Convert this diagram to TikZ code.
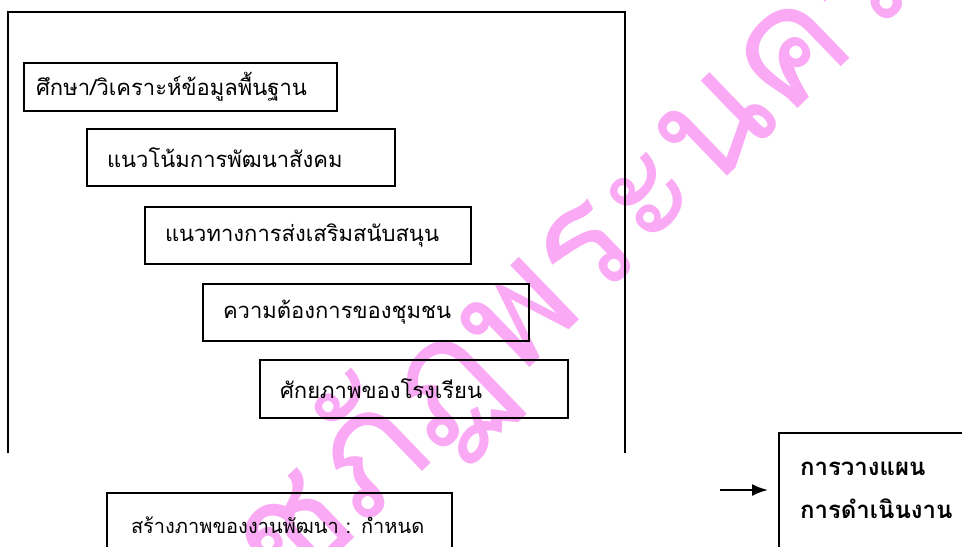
\documentclass[tikz,border=0pt]{standalone}
\usepackage{fontspec}
\newfontfamily\thai[Script=Thai]{Loma}
\usetikzlibrary{arrows.meta}
\definecolor{wmpink}{RGB}{250,170,245}
\tikzset{> = {Latex[length=8pt,width=6pt]}, every picture/.style={line width=1pt}}

\begin{document}
\begin{tikzpicture}[x=0.5pt,y=-0.5pt]
\useasboundingbox (0,0) rectangle (962,546);

% watermark
\node[rotate=44, text=wmpink, font=\thai\fontsize{78}{78}\selectfont] (mark) at (510,322) {ราชภัฏพระนคร};

% frame
\draw[line width=0.8pt] (8,453) -- (8,12) -- (625,12) -- (625,453);

\begin{scope}[every node/.style={draw,rectangle,anchor=north west,align=left,inner xsep=10pt,font=\thai\fontsize{11}{13}\selectfont}]
\node[text width=144.5pt, inner xsep=6pt, minimum height=24pt] (basic) at (23,62) {ศึกษา/วิเคราะห์ข้อมูลพื้นฐาน};
\node[text width=134pt, minimum height=28.5pt] (trend) at (86,128) {แนวโน้มการพัฒนาสังคม};
\node[text width=143pt, minimum height=28.5pt] (support) at (144,206) {แนวทางการส่งเสริมสนับสนุน};
\node[text width=143pt, minimum height=28.5pt] (need) at (202,283) {ความต้องการของชุมชน};
\node[text width=134pt, minimum height=29pt] (school) at (259,359) {ศักยภาพของโรงเรียน};
\node[text width=148.5pt, inner xsep=12pt, minimum height=32pt, font=\thai\fontsize{10}{12}\selectfont] (vision) at (106,492) {\mbox{สร้างภาพของงานพัฒนา : กำหนด}};
\node[text width=90pt, inner xsep=10.5pt, inner ysep=14.5pt, text depth=40pt, font=\thai\bfseries\fontsize{12}{21.5}\selectfont] (plan) at (778,432) {การวางแผน\\การดำเนินงาน};
\end{scope}

\coordinate (arrtail) at (720,490);
\draw[->, shorten >=5pt] (arrtail) -- (plan.west |- arrtail);
\end{tikzpicture}
\end{document}
